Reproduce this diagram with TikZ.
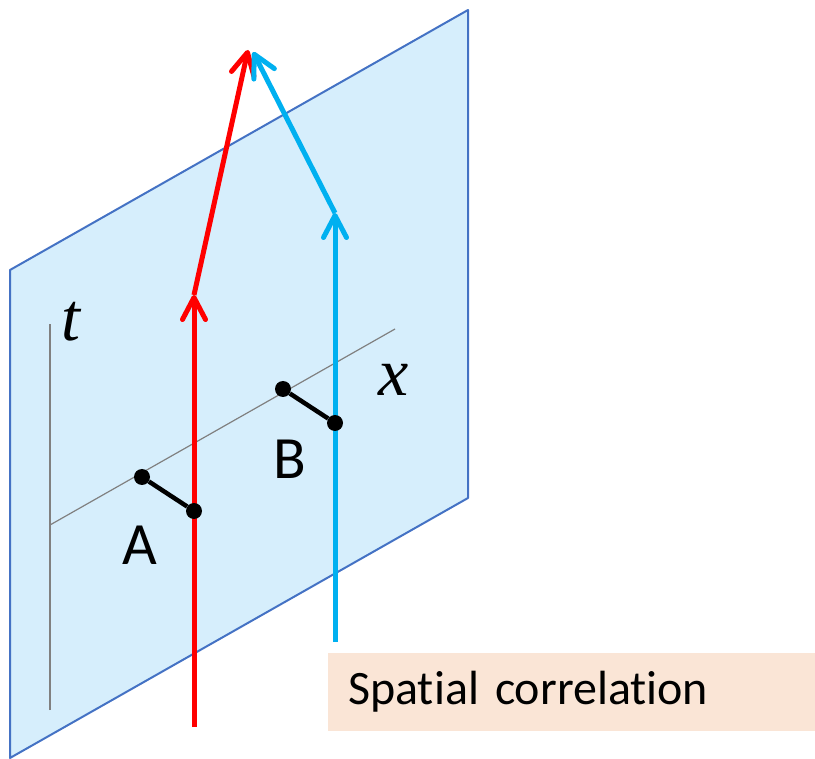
\documentclass[tikz,border=0pt]{standalone}
\usepackage{fontspec}
\setsansfont[Ligatures=NoCommon]{Carlito}
\newfontfamily\axisfont{Liberation Serif}
\usetikzlibrary{arrows.meta}
\definecolor{planefill}{RGB}{214,238,252}
\definecolor{planeedge}{RGB}{68,114,196}
\definecolor{lineblue}{RGB}{0,176,240}
\definecolor{notefill}{RGB}{250,229,214}
\tikzset{
  plane/.style     = {fill=planefill, draw=planeedge, line width=2pt, line join=round},
  axis/.style      = {draw=gray, line width=1.6pt},
  worldline/.style = {line width=5pt, -{Straight Barb[length=22pt, width=23pt, line width=5pt, round]}},
  dot/.style       = {circle, fill=black, inner sep=0pt, minimum size=16pt},
  link/.style      = {line width=4.5pt, black},
  lbl/.style       = {font=\sffamily\fontsize{60}{60}\selectfont, inner sep=0pt},
  axlbl/.style     = {font=\axisfont\itshape\fontsize{68}{68}\selectfont, inner sep=0pt},
  note/.style      = {fill=notefill, anchor=north west, minimum width=487pt, minimum height=78pt,
                      inner xsep=0pt, inner ysep=0pt, text width=467pt, align=left,
                      font=\sffamily\fontsize{48}{48}\selectfont},
}

\begin{document}
\begin{tikzpicture}[x=1pt, y=-1pt]
  \useasboundingbox (0,0) rectangle (815,759);
  % the x-t plane
  \draw[plane] (468,10) -- (10,270) -- (10,758) -- (468,498) -- cycle;
  \coordinate (t0) at (50,710);
  \coordinate (t1) at (50,324);
  \coordinate (x0) at (50,525);
  \coordinate (x1) at (395,329);
  \draw[axis] (t0) -- (t1);
  \draw[axis, line width=1.2pt] (x0) -- (x1);
  \node[axlbl] (tlbl) at (71,322) {t};
  \node[axlbl] (xlbl) at (394,380) {x};
  % world lines
  \coordinate (r0) at (194,727);
  \coordinate (r1) at (194,295);
  \coordinate (r2) at (248,50);
  \coordinate (s0) at (335,642);
  \coordinate (s1) at (335,213);
  \coordinate (s2) at (253,52);
  \draw[worldline, red] (r0) -- (r1);
  \draw[worldline, red] (r1) -- (r2);
  \draw[worldline, lineblue] (s0) -- (s1);
  \draw[worldline, lineblue] (s1) -- (s2);
  % pairs A and B
  \node[dot] (a1) at (142,477) {};
  \node[dot] (a2) at (194,511) {};
  \node[dot] (b1) at (283,389) {};
  \node[dot] (b2) at (335,423) {};
  \draw[link] (a1) -- (a2);
  \draw[link] (b1) -- (b2);
  \node[lbl] (albl) at (140,545) {A};
  \node[lbl] (blbl) at (290,459) {B};
  % caption box
  \node[note] (cap) at (328,653) {\hspace*{10pt}Spatial correlation};
\end{tikzpicture}
\end{document}
